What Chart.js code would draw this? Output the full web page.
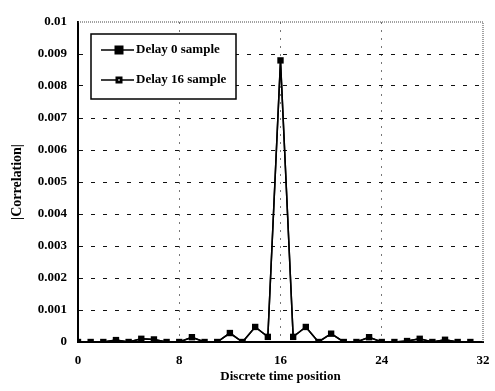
<!DOCTYPE html>
<html>
<head>
<meta charset="utf-8">
<script src="https://cdn.jsdelivr.net/npm/chart.js@4.4.1/dist/chart.umd.min.js"></script>
<style>
  html, body { margin: 0; padding: 0; background: #fff; }
  #wrap { width: 495px; height: 391px; }
</style>
</head>
<body>
<div id="wrap"><canvas id="corr"></canvas></div>
<script>
// sample positions 0..31
const positions = [0, 1, 2, 3, 4, 5, 6, 7, 8, 9, 10, 11, 12, 13, 14, 15,
                   16, 17, 18, 19, 20, 21, 22, 23, 24, 25, 26, 27, 28, 29, 30, 31];
const delay0 = [0, 0, 0, 0.00006, 0, 0.0001, 0.00008, 0, 0, 0.00015, 0, 0, 0.00028, 0, 0.00047, 0.00016,
                0.0088, 0.00016, 0.00047, 0, 0.00026, 0, 0, 0.00015, 0, 0, 0.00003, 0.0001, 0, 0.00007, 0, 0];
const delay16 = [0, 0, 0, 0.00006, 0, 0.0001, 0.00008, 0, 0, 0.00015, 0, 0, 0.00028, 0, 0.00047, 0.00016,
                 0.0088, 0.00016, 0.00047, 0, 0.00026, 0, 0, 0.00015, 0, 0, 0.00003, 0.0001, 0, 0.00007, 0, 0];
const xTicks = [0, 8, 16, 24, 32];
const yTicks = [0, 0.001, 0.002, 0.003, 0.004, 0.005, 0.006, 0.007, 0.008, 0.009, 0.01];
const seriesNames = ['Delay 0 sample', 'Delay 16 sample'];

const serif = '"Liberation Serif", "DejaVu Serif", serif';

const toPoints = (vals) => positions.map((p, i) => ({ x: p, y: vals[i] }));

// legend box drawn inside the plot, top-left
const boxLegend = {
    id: 'boxLegend',
    afterDraw(chart) {
        const ctx = chart.ctx;
        const x0 = 91, y0 = 34, w = 145, h = 65;
        ctx.save();
        ctx.fillStyle = '#fff';
        ctx.fillRect(x0, y0, w, h);
        ctx.strokeStyle = '#000';
        ctx.lineWidth = 1.5;
        ctx.strokeRect(x0, y0, w, h);
        ctx.font = 'bold 13px ' + serif;
        ctx.textBaseline = 'middle';
        const rows = [50, 80];
        rows.forEach((ry, i) => {
            ctx.strokeStyle = '#000';
            ctx.lineWidth = 1.5;
            ctx.beginPath();
            ctx.moveTo(101, ry);
            ctx.lineTo(134, ry);
            ctx.stroke();
            ctx.fillStyle = '#000';
            const s = i === 0 ? 9 : 7;
            ctx.fillRect(119 - s / 2, ry - s / 2, s, s);
            if (i === 1) {
                ctx.fillStyle = '#888';
                ctx.fillRect(118, ry - 1, 2, 2);
            }
            ctx.fillStyle = '#000';
            ctx.fillText(seriesNames[i], 136, ry);
        });
        ctx.restore();
    }
};

// dotted frame on the top and right edges
const frame = {
    id: 'frame',
    beforeDatasetsDraw(chart) {
        const { ctx, chartArea: a } = chart;
        ctx.save();
        ctx.strokeStyle = '#444';
        ctx.lineWidth = 1;
        ctx.setLineDash([1, 1]);
        ctx.beginPath();
        ctx.moveTo(a.left, a.top);
        ctx.lineTo(a.right, a.top);
        ctx.lineTo(a.right, a.bottom);
        ctx.stroke();
        ctx.restore();
    }
};

new Chart(document.getElementById('corr'), {
    type: 'line',
    data: {
        datasets: [
            {
                label: seriesNames[0],
                data: toPoints(delay0),
                borderColor: '#000',
                borderWidth: 1.5,
                pointStyle: 'rect',
                pointRadius: 4.5,
                pointBackgroundColor: '#000',
                pointBorderColor: '#000',
                pointBorderWidth: 0,
                tension: 0
            },
            {
                label: seriesNames[1],
                data: toPoints(delay16),
                borderColor: '#000',
                borderWidth: 1.5,
                pointStyle: 'rect',
                pointRadius: 1.5,
                pointBackgroundColor: '#999',
                pointBorderColor: '#000',
                pointBorderWidth: 0,
                tension: 0
            }
        ]
    },
    plugins: [frame, boxLegend],
    options: {
        responsive: true,
        maintainAspectRatio: false,
        animation: false,
        layout: { padding: { top: 22, right: 12, left: 0, bottom: 0 } },
        plugins: {
            legend: { display: false },
            tooltip: { enabled: false }
        },
        scales: {
            x: {
                type: 'linear',
                min: 0,
                max: 32,
                afterBuildTicks: (axis) => { axis.ticks = xTicks.map(v => ({ value: v })); },
                afterFit: (axis) => {
                    axis.height = 49;
                    axis.paddingLeft = 0;
                    axis.paddingRight = 0;
                },
                ticks: { color: '#000', font: { family: serif, size: 13, weight: 'bold' }, padding: 11, maxRotation: 0 },
                grid: {
                    color: (c) => (c.tick.value === 0 || c.tick.value === 32) ? 'rgba(0,0,0,0)' : '#777',
                    lineWidth: 1,
                    drawTicks: false
                },
                // in v4 the border dash is also used for the grid lines
                border: { color: '#000', width: 2, dash: [2, 6] },
                title: {
                    display: true,
                    text: 'Discrete time position',
                    color: '#000',
                    font: { family: serif, size: 13, weight: 'bold' },
                    padding: { top: 0, bottom: 7 }
                }
            },
            y: {
                min: 0,
                max: 0.01,
                afterBuildTicks: (axis) => { axis.ticks = yTicks.map(v => ({ value: v })); },
                afterFit: (axis) => { axis.width = 78; },
                ticks: {
                    color: '#000',
                    font: { family: serif, size: 13, weight: 'bold' },
                    padding: 11,
                    callback: (v) => String(+v.toFixed(3))
                },
                grid: {
                    color: (c) => (c.tick.value === 0 || c.tick.value === 0.01) ? 'rgba(0,0,0,0)' : '#111',
                    lineWidth: 1,
                    drawTicks: false
                },
                border: { color: '#000', width: 2, dash: [4, 8] },
                title: {
                    display: true,
                    text: '|Correlation|',
                    color: '#000',
                    font: { family: serif, size: 14, weight: 'bold' },
                    padding: { top: 9, bottom: 0 }
                }
            }
        }
    }
});
</script>
</body>
</html>
